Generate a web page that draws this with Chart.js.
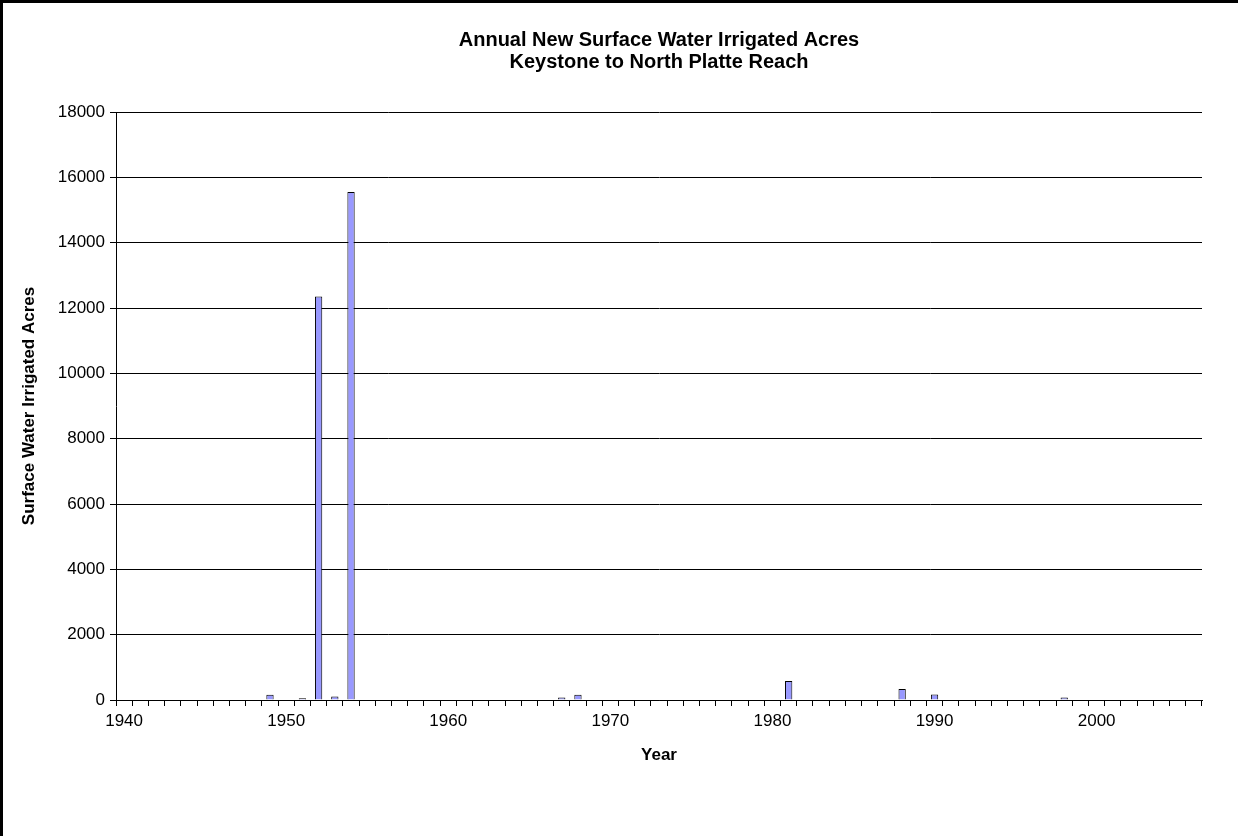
<!DOCTYPE html>
<html lang="en">
  <head>
    <meta charset="UTF-8" />
    <title>Annual New Surface Water Irrigated Acres</title>
    <script src="https://cdn.jsdelivr.net/npm/chart.js@4.4.1/dist/chart.umd.min.js"></script>
    <style>
      html, body { margin: 0; padding: 0; background: #fff; }
    </style>
  </head>
  <body>
    <canvas id="myChart" width="1238" height="836"></canvas>
    <script>
      // every year on the axis (one category per year)
      var years = [1940, 1941, 1942, 1943, 1944, 1945, 1946, 1947, 1948, 1949,
        1950, 1951, 1952, 1953, 1954, 1955, 1956, 1957, 1958, 1959,
        1960, 1961, 1962, 1963, 1964, 1965, 1966, 1967, 1968, 1969,
        1970, 1971, 1972, 1973, 1974, 1975, 1976, 1977, 1978, 1979,
        1980, 1981, 1982, 1983, 1984, 1985, 1986, 1987, 1988, 1989,
        1990, 1991, 1992, 1993, 1994, 1995, 1996, 1997, 1998, 1999,
        2000, 2001, 2002, 2003, 2004, 2005, 2006];

      // years that have new acres, and how many
      var barYears = [1949, 1951, 1952, 1953, 1954, 1967, 1968, 1981, 1988, 1990, 1998];
      var barAcres = [160, 50, 12350, 110, 15550, 80, 160, 580, 340, 170, 80];

      var yTicks = [0, 2000, 4000, 6000, 8000, 10000, 12000, 14000, 16000, 18000];

      // full series, null where nothing was added
      var v_data = years.map(function (y) {
        var k = barYears.indexOf(y);
        return k >= 0 ? barAcres[k] : null;
      });

      Chart.defaults.font.family = "'Liberation Sans', Arial, sans-serif";
      Chart.defaults.color = "#000";

      // white page and the black frame on top / left
      var framePlugin = {
        id: "frame",
        beforeDraw: function (chart) {
          var c = chart.ctx;
          c.save();
          c.fillStyle = "#fff";
          c.fillRect(0, 0, chart.width, chart.height);
          c.fillStyle = "#000";
          c.fillRect(0, 0, chart.width, 3);
          c.fillRect(0, 0, 3, chart.height);
          c.restore();
        },
      };

      const ctx = document.getElementById("myChart").getContext("2d");
      const myChart = new Chart(ctx, {
        type: "bar",
        data: {
          labels: years,
          datasets: [
            {
              label: "Surface Water Irrigated Acres",
              data: v_data,
              backgroundColor: "#9999FF",
              borderColor: "#000",
              borderWidth: 1,
              categoryPercentage: 0.9,
              barPercentage: 0.5,
            },
          ],
        },
        plugins: [framePlugin],
        options: {
          responsive: false,
          animation: false,
          layout: { padding: { left: 0, right: 36, top: 0, bottom: 66 } },
          plugins: {
            legend: { display: false },
            tooltip: { enabled: false },
            title: {
              display: true,
              fullSize: false,
              text: ["Annual New Surface Water Irrigated Acres", "Keystone to North Platte Reach"],
              color: "#000",
              font: { size: 20, weight: "bold", lineHeight: 1.1 },
              padding: { top: 29, bottom: 39 },
            },
          },
          scales: {
            x: {
              offset: true,
              grid: {
                display: true,
                offset: true,
                drawOnChartArea: false,
                drawTicks: true,
                tickLength: 6,
                color: "#000",
              },
              border: { color: "#000", width: 1 },
              ticks: {
                autoSkip: false,
                maxRotation: 0,
                padding: 5,
                font: { size: 17 },
                callback: function (v, i) {
                  return years[i] % 10 === 0 ? String(years[i]) : "";
                },
              },
              title: {
                display: true,
                text: "Year",
                font: { size: 17, weight: "bold" },
              },
              afterFit: function (s) {
                s.height = 70;
              },
            },
            y: {
              min: 0,
              max: 18000,
              afterBuildTicks: function (s) {
                s.ticks = yTicks.map(function (v) { return { value: v }; });
              },
              ticks: {
                padding: 5,
                font: { size: 17 },
                callback: function (v) { return String(v); },
              },
              grid: { color: "#000", lineWidth: 1, tickLength: 6 },
              border: { color: "#000", width: 1 },
              title: {
                display: true,
                text: "Surface Water Irrigated Acres",
                font: { size: 17, weight: "bold" },
                padding: { top: 19, bottom: 4 },
              },
              afterFit: function (s) {
                s.width = 116;
              },
            },
          },
        },
      });
    </script>
  </body>
</html>
